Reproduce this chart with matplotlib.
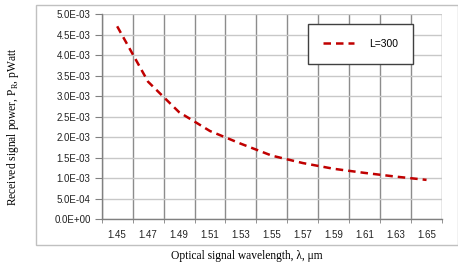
import matplotlib
matplotlib.use("Agg")
import matplotlib.pyplot as plt
from matplotlib.patches import Rectangle
import numpy as np

categories = ["1.45", "1.47", "1.49", "1.51", "1.53", "1.55", "1.57", "1.59", "1.61", "1.63", "1.65"]
power = [4.70e-3, 3.35e-3, 2.61e-3, 2.15e-3, 1.84e-3, 1.55e-3, 1.37e-3, 1.23e-3, 1.13e-3, 1.04e-3, 0.96e-3]
series_label = "L=300"
yticks = [i * 5e-4 for i in range(11)]
ytick_labels = ["0.0E+00", "5.0E-04", "1.0E-03", "1.5E-03", "2.0E-03", "2.5E-03",
                "3.0E-03", "3.5E-03", "4.0E-03", "4.5E-03", "5.0E-03"]

W, H = 458, 263
fig = plt.figure(figsize=(W / 100, H / 100), dpi=100)
fig.patch.set_facecolor("white")

# outer chart frame
frame = Rectangle((36 / W, 1 - 245 / H), (458 - 36) / W, (245 - 5) / H,
                  transform=fig.transFigure, fill=False, edgecolor="#c0c0c0", lw=1.0)
fig.patches.append(frame)

ax = fig.add_axes([101.7 / W, 1 - 219.3 / H, (442 - 101.7) / W, (219.3 - 14) / H])
x = np.arange(len(categories))
ax.plot(x, power, color="#c00000", lw=1.8, ls=(0, (3, 2)), label=series_label)

ax.set_xlim(-0.5, len(categories) - 0.5)
ax.set_ylim(0, 5e-3)
ax.set_xticks(x)
ax.set_xticklabels(categories, family="Liberation Sans", fontsize=7, color="#222222")
ax.set_xticks(np.arange(len(categories) + 1) - 0.5, minor=True)
ax.tick_params(axis="x", which="major", length=0, pad=8)
ax.tick_params(axis="x", which="minor", length=3, color="#808080", direction="out")
ax.set_yticks(yticks)
ax.set_yticklabels(ytick_labels, family="Liberation Sans", fontsize=7, color="#222222")
ax.tick_params(axis="y", length=5, color="#808080", pad=3)

ax.grid(True, axis="y", which="major", color="#c8c8c8", lw=1.0)
ax.grid(True, axis="x", which="minor", color="#8c8c8c", lw=1.0)
ax.set_axisbelow(True)
for s in ["top", "right"]:
    ax.spines[s].set_visible(False)
for s in ["left", "bottom"]:
    ax.spines[s].set_color("#808080")
    ax.spines[s].set_linewidth(1.0)

leg = ax.legend(loc="upper left", bbox_to_anchor=((307.7 - 101.7) / (442 - 101.7), 1 - (24 - 14) / (219.3 - 14)),
                frameon=True, fancybox=False, prop={"family": "Liberation Sans", "size": 7.5},
                handlelength=3.0, borderpad=1.45, handletextpad=1.4, borderaxespad=0)
leg.get_frame().set_edgecolor("#404040")
leg.get_frame().set_linewidth(1.0)
leg.get_frame().set_alpha(1)

fig.text(13 / W, 1 - 127 / H, "Received signal power, P$_\\mathregular{R}$, pWatt",
         rotation=90, ha="center", va="center", family="Liberation Serif", fontsize=8.3)
fig.text(247 / W, 1 - 256 / H, "Optical signal wavelength, λ, μm",
         ha="center", va="center", family="Liberation Serif", fontsize=8.3)

fig.savefig("out.png", dpi=100)
